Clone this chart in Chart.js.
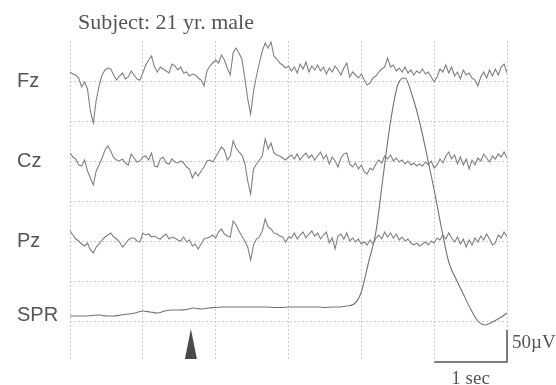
<!DOCTYPE html>
<html>
<head>
<meta charset="utf-8">
<script src="https://cdn.jsdelivr.net/npm/chart.js@4.4.1/dist/chart.umd.min.js"></script>
<style>
  html, body { margin: 0; padding: 0; background: #fff; }
  #wrap { width: 556px; height: 385px; }
</style>
</head>
<body>
<div id="wrap"><canvas id="eegChart" width="556" height="385"></canvas></div>
<script>
// EEG samples every 0.04 s (0..6 s), amplitude in plot units (50 µV = 32 units)
const eegStep = 0.04;
const fzValues = [
  9, 7, 6, 3, -6, -1, -8, -30, -42, -19,
  -5, 6, 11, 13, 12, 6, 1, 5, 8, 2,
  4, 10, 6, 2, 1, 8, 16, 21, 25, 14,
  9, 14, 12, 10, 8, 17, 15, 11, 14, 8,
  9, 5, 7, 6, 3, 1, -5, 10, 15, 18,
  21, 18, 26, 21, 13, 6, 28, 33, 28, 22,
  3, -18, -33, -10, 5, 18, 30, 38, 33, 39,
  25, 22, 18, 16, 13, 15, 10, 14, 8, 17,
  12, 19, 9, 15, 11, 16, 10, 14, 7, 13,
  9, 15, 11, 6, 13, 18, 4, 9, 6, 3,
  7, 1, -4, -2, 3, 5, 9, 12, 14, 23,
  14, 16, 10, 13, 9, 14, 8, 11, 6, 10,
  8, 12, 7, 9, 4, -1, 4, 12, 9, 16,
  8, 14, 5, 9, 2, 11, 6, 8, 3, 1,
  -5, 4, 9, 3, 11, 5, 12, 6, 14, 17,
  8
];
const czValues = [
  8, 4, 2, -4, -5, 1, -10, -17, -24, -10,
  -4, 3, 11, 15, 10, 3, 1, 0, 2, -2,
  -4, 7, 3, -1, 0, 4, 5, 1, 8, -5,
  -6, 2, 4, -2, -3, 2, -1, -2, 0, -2,
  -6, -8, -17, -11, -15, -10, -6, 0, 1, -1,
  4, 9, 14, 11, 1, 5, 20, 13, 9, 6,
  -2, -20, -33, -8, -3, 1, 5, 22, 12, 18,
  8, 6, 5, 3, 1, 4, 6, 2, 7, 1,
  5, 8, 3, 6, 1, 5, 9, 2, 6, -3,
  4, 0, -6, 3, 7, 8, -3, -6, -2, -8,
  -4, -11, -13, -7, -9, -3, 1, -2, 5, 2,
  6, 0, 3, -1, 1, -3, 0, -4, -2, -5,
  -3, -5, -1, -4, 0, -7, -4, 2, -2, 5,
  9, 2, 6, -3, 4, -4, 2, -8, 1, -4,
  3, 0, 7, 3, -1, 5, 2, 7, 4, 9,
  3
];
const pzValues = [
  10, 6, 2, 0, -3, -5, -2, -9, -12, -6,
  -3, 1, 4, 6, 8, 4, 2, -1, -6, -3,
  1, 3, 3, 0, -1, 8, 6, 7, 4, 5,
  3, 2, 5, 7, 2, 4, 3, 1, 0, 4,
  -1, 1, -5, -3, -8, -3, 2, 3, 4, 6,
  3, 9, 12, 7, 5, 4, 20, 16, 10, 5,
  0, -6, -19, -4, 2, 4, 10, 22, 14, 12,
  8, 7, 5, 4, -1, 4, 3, 8, 2, 6,
  9, 3, 7, 10, 5, 8, 2, 6, 9, -2,
  3, -8, 5, 7, 2, 8, 0, 3, -1, 2,
  -3, -1, -4, 1, -3, 3, 6, 2, 9, 4,
  8, 3, 7, 1, 4, 0, 2, -2, -4, -2,
  -5, -3, -1, -4, 0, -2, 3, 1, 6, 2,
  8, 3, -1, 4, -3, 2, -6, 1, -4, 3,
  -1, 5, 1, 7, 2, -4, -2, 6, 3, 9,
  4
];

// SPR samples every 0.1 s, absolute plot units
const sprStep = 0.1;
const sprValues = [
  45, 45, 45, 45.5, 46, 45, 45, 46, 47, 48,
  50, 49, 48, 50, 51, 51, 51.5, 53, 52, 53,
  53.5, 54, 54, 54, 54, 54, 54, 54, 53.5, 53.5,
  54, 54, 54, 54, 54, 53.5, 54, 54, 55, 57,
  69, 99, 129, 185, 239, 276, 283, 265, 239, 206,
  171, 133, 99, 82, 67, 52, 40, 36, 39, 43,
  48
];

const channelNames = ["Fz", "Cz", "Pz", "SPR"];
const channelBaselines = [280, 200, 120, 45];
const stimulusTime = 1.66;
const scaleBarUv = 50;
const unitsPerUv = 32 / 50;
const scaleBarSec = 1;

function toPoints(values, step, offset) {
  return values.map((v, i) => ({ x: i * step, y: offset + v }));
}

const traceStyle = {
  borderColor: "#808080",
  borderWidth: 1.1,
  pointRadius: 0,
  fill: false,
  tension: 0,
};

const overlay = {
  id: "overlay",
  afterDraw(chart) {
    const c = chart.ctx;
    const xs = chart.scales.x;
    const ys = chart.scales.y;
    const area = chart.chartArea;
    c.save();

    // title
    c.fillStyle = "#555";
    c.font = "22px 'Liberation Serif', serif";
    c.textBaseline = "alphabetic";
    c.textAlign = "left";
    c.fillText("Subject: 21 yr. male", 78, 29);

    // channel labels
    c.font = "20px 'Liberation Sans', Arial, sans-serif";
    c.textBaseline = "middle";
    channelNames.forEach((name, i) => {
      c.fillText(name, 17, ys.getPixelForValue(channelBaselines[i]) + (i === 3 ? -1 : 0));
    });

    // stimulus marker
    const sx = xs.getPixelForValue(stimulusTime);
    c.fillStyle = "#4a4a4a";
    c.beginPath();
    c.moveTo(sx, area.bottom - 32);
    c.lineTo(sx + 6, area.bottom - 2);
    c.lineTo(sx - 6, area.bottom - 2);
    c.closePath();
    c.fill();

    // calibration bars
    const x1 = xs.getPixelForValue(6);
    const x0 = xs.getPixelForValue(6 - scaleBarSec);
    const yb = ys.getPixelForValue(0) + 1;
    const yt = ys.getPixelForValue(scaleBarUv * unitsPerUv) + 1;
    c.strokeStyle = "#555";
    c.lineWidth = 1.5;
    c.beginPath();
    c.moveTo(x0, yb);
    c.lineTo(x1, yb);
    c.lineTo(x1, yt);
    c.stroke();

    c.fillStyle = "#555";
    c.font = "19px 'Liberation Serif', serif";
    c.textBaseline = "alphabetic";
    c.fillText("50µV", x1 + 5, 348);
    c.textAlign = "center";
    c.font = "19px 'Liberation Serif', serif";
    c.fillText("1 sec", (x0 + x1) / 2, 384);
    c.restore();
  },
};

document.addEventListener("DOMContentLoaded", () => {
  const ctx = document.getElementById("eegChart").getContext("2d");

  new Chart(ctx, {
    type: "line",
    data: {
      datasets: [
        { label: "Fz", data: toPoints(fzValues, eegStep, channelBaselines[0]), ...traceStyle },
        { label: "Cz", data: toPoints(czValues, eegStep, channelBaselines[1]), ...traceStyle },
        { label: "Pz", data: toPoints(pzValues, eegStep, channelBaselines[2]), ...traceStyle },
        {
          label: "SPR",
          data: toPoints(sprValues, sprStep, 0),
          ...traceStyle,
          borderColor: "#727272",
          cubicInterpolationMode: "monotone",
        },
      ],
    },
    options: {
      responsive: false,
      animation: false,
      layout: { padding: { left: 70, right: 49, top: 41, bottom: 24 } },
      plugins: { legend: { display: false }, tooltip: { enabled: false } },
      scales: {
        x: {
          type: "linear",
          min: 0,
          max: 6,
          ticks: { display: false, stepSize: 1 },
          border: { display: false, dash: [2, 2] },
          grid: { color: "#cccccc", drawTicks: false, lineWidth: 1 },
        },
        y: {
          min: 0,
          max: 320,
          ticks: { display: false, stepSize: 40 },
          border: { display: false, dash: [2, 2] },
          grid: {
            drawTicks: false,
            lineWidth: 1,
            color: (c) => (c.tick && (c.tick.value === 0 || c.tick.value === 320) ? "rgba(0,0,0,0)" : "#cccccc"),
          },
        },
      },
    },
    plugins: [overlay],
  });
});
</script>
</body>
</html>
